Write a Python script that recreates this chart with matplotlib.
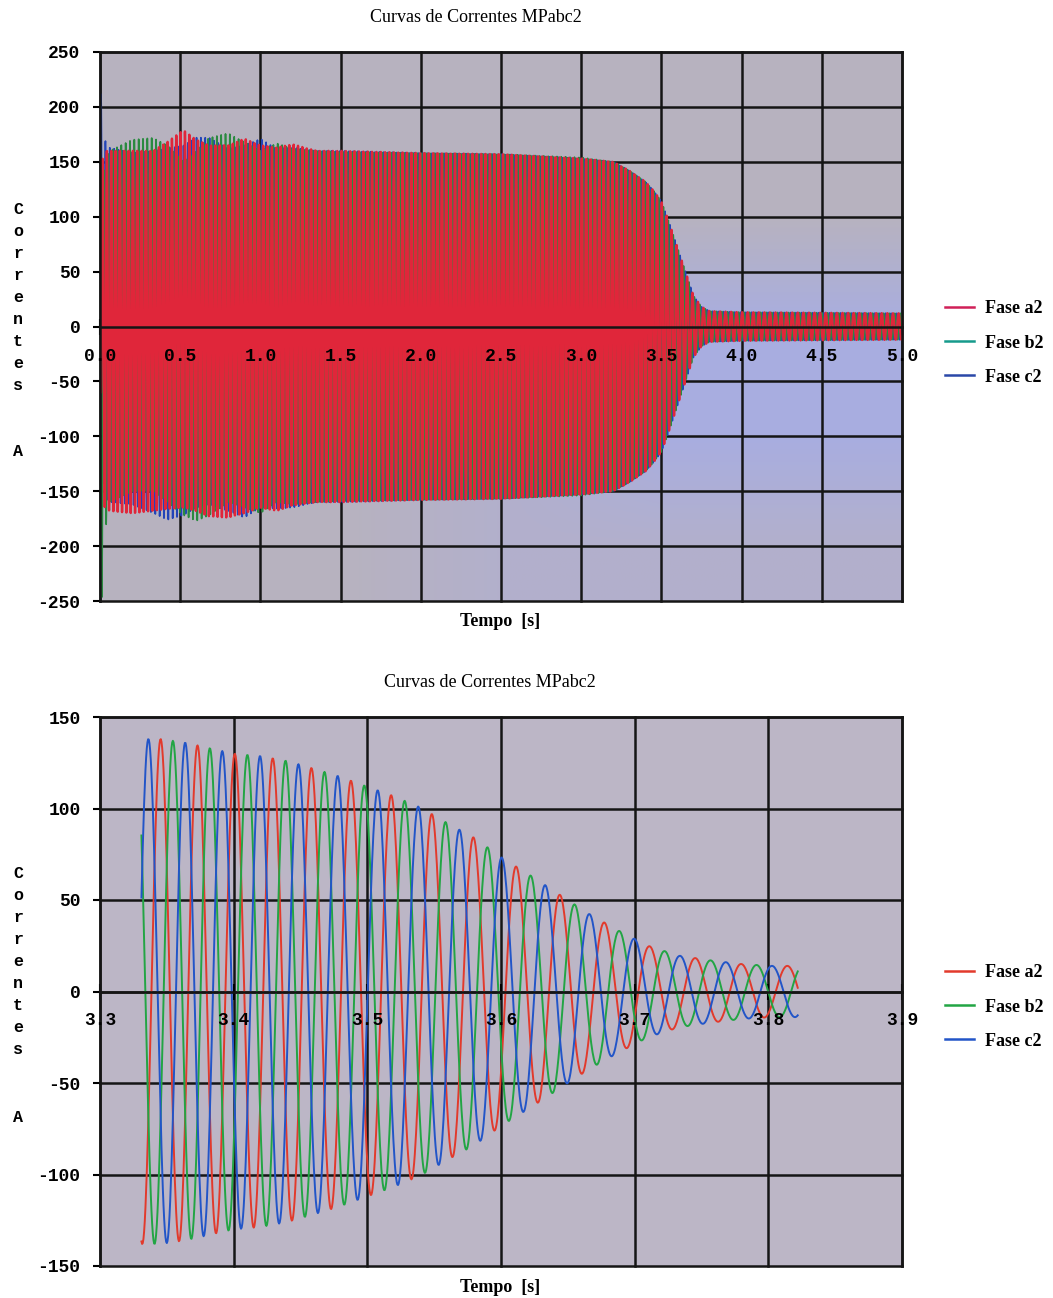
import numpy as np
import matplotlib.pyplot as plt
from matplotlib.lines import Line2D

# ---------------- top chart: envelope keypoints ----------------
t_env = [0.0, 0.01, 0.03, 0.06, 0.2, 0.33, 0.42, 0.52, 0.6, 0.68, 0.8, 0.9, 1.0, 1.1, 1.2,
         1.35, 1.5, 2.0, 2.5, 3.0, 3.2, 3.3, 3.4, 3.45, 3.5, 3.55, 3.6, 3.65, 3.7, 3.75,
         3.8, 4.0, 5.0]
a_up = [0, 150, 160, 160, 160, 160, 168, 179, 170, 165, 165, 171, 165, 163, 166,
        160, 160, 158, 157, 153, 150, 142, 132, 124, 114, 94, 72, 50, 28, 18, 14, 13, 12]
a_lo = [0, -150, -165, -168, -170, -168, -166, -165, -168, -173, -174, -170, -165, -168, -163,
        -160, -160, -158, -157, -153, -150, -142, -132, -124, -114, -94, -72, -50, -28, -18,
        -14, -13, -12]
b_up = [0, 120, 150, 160, 170, 172, 165, 150, 160, 172, 176, 168, 160, 167, 162,
        160, 159, 158, 157, 154, 150, 142, 132, 124, 114, 94, 72, 50, 28, 18, 14, 13, 12]
b_lo = [-250, -250, -188, -160, -150, -150, -160, -172, -177, -172, -160, -165, -170, -160, -162,
        -160, -159, -158, -157, -154, -150, -142, -132, -124, -114, -94, -72, -50, -28, -18,
        -14, -13, -12]
c_up = [250, 190, 170, 163, 158, 160, 162, 165, 172, 172, 162, 165, 171, 162, 163,
        160, 160, 158, 157, 153, 150, 142, 132, 124, 114, 94, 72, 50, 28, 18, 14, 13, 12]
c_lo = [0, -130, -155, -160, -162, -170, -176, -172, -165, -162, -168, -174, -165, -166, -165,
        -160, -160, -158, -157, -153, -150, -142, -132, -124, -114, -94, -72, -50, -28, -18,
        -14, -13, -12]

# supply frequency (Hz), read from the spacing of the peaks
t_freq = [0.0, 3.3, 3.37, 3.43, 3.49, 3.55, 3.61, 3.67, 3.73, 3.82, 5.0]
f_freq = [37.0, 36.6, 36.2, 34.9, 33.4, 32.6, 30.8, 29.9, 29.2, 29.0, 28.5]

# ---------------- bottom chart: zoom 3.33 s .. 3.82 s ----------------
t_zoom = [3.331, 3.345, 3.364, 3.382, 3.40, 3.42, 3.44, 3.459, 3.478, 3.4985, 3.519, 3.54,
          3.56, 3.58, 3.601, 3.623, 3.645, 3.666, 3.688, 3.71, 3.733, 3.757, 3.78, 3.802, 3.822]
amp_zoom = [138, 138, 136, 133, 130, 128.7, 126, 122, 117.8, 112.4, 107, 100.5,
            92, 84, 73, 63, 52.4, 42.4, 33.3, 25, 19.6, 17, 15, 14, 14]
t_peak_c2 = 3.3362   # first peak of phase c2 in the zoom

labels = ["Fase a2", "Fase b2", "Fase c2"]
shifts = [2 * np.pi / 3, 4 * np.pi / 3, 0.0]   # a2 lags c2, b2 lags a2
top_colors = ["#e0263a", "#2a8a40", "#2244b8"]
top_widths = [1.7, 1.2, 1.2]
top_leg_colors = ["#d02058", "#169a8c", "#2a48a8"]
bot_colors = ["#e23a2c", "#22a544", "#2255c8"]


def carrier(t):
    f = np.interp(t, t_freq, f_freq)
    dt = np.diff(t, prepend=t[0])
    return 2 * np.pi * np.cumsum(f * dt)


fig = plt.figure(figsize=(10.53, 12.98), dpi=100)
W, H = 1053, 1298
ax1 = fig.add_axes([100 / W, 1 - 601 / H, 802 / W, 549 / H])
ax2 = fig.add_axes([100 / W, 1 - 1266 / H, 802 / W, 549 / H])

# top chart signals (red drawn last, it covers most of the band)
t1 = np.arange(0.0, 5.0, 0.0005)
th1 = carrier(t1)
env = [(a_up, a_lo), (b_up, b_lo), (c_up, c_lo)]
for k in [2, 1, 0]:
    up = np.interp(t1, t_env, env[k][0])
    lo = np.interp(t1, t_env, env[k][1])
    y = (up + lo) / 2 + (up - lo) / 2 * np.sin(th1 - shifts[k])
    ax1.plot(t1, y, color=top_colors[k], lw=top_widths[k], zorder=2)

# scanned-paper background of the top chart
g = [0.72, 0.70, 0.75]
b = [0.66, 0.68, 0.88]
m = [0.70, 0.69, 0.80]
bg = np.array([[g, g, g, g, g],
               [g, g, g, g, g],
               [g, g, g, b, b],
               [g, g, m, b, b],
               [g, g, m, m, m]])
ax1.imshow(bg, extent=[0, 5, -250, 250], aspect="auto", interpolation="bilinear", zorder=0)

# bottom chart signals
t2 = np.arange(3.331, 3.8225, 0.0005)
th2 = carrier(t2)
th2 = th2 - np.interp(t_peak_c2, t2, th2) + np.pi / 2
amp2 = np.interp(t2, t_zoom, amp_zoom)
for k in [0, 1, 2]:
    ax2.plot(t2, amp2 * np.sin(th2 - shifts[k]), color=bot_colors[k], lw=1.4, zorder=2)
ax2.set_facecolor("#bcb6c6")


def style(ax, xt, yt, xfmt, lab_y):
    ax.set_xlim(xt[0], xt[-1])
    ax.set_ylim(yt[0], yt[-1])
    for x in xt:
        ax.axvline(x, color="#151515", lw=1.8, zorder=1, clip_on=False)
    for y in yt:
        ax.axhline(y, color="#151515", lw=1.8, zorder=1, clip_on=False)
    for s in ["top", "right", "left", "bottom"]:
        ax.spines[s].set_linewidth(1.8)
        ax.spines[s].set_color("#151515")
    ax.spines["bottom"].set_position(("data", 0))
    ax.set_xticks(xt)
    ax.set_xticklabels([])
    ax.tick_params(axis="x", direction="inout", length=12, width=1.5)
    ax.set_yticks(yt)
    ax.set_yticklabels([str(v) for v in yt], family="Liberation Mono",
                       weight="bold", size=13)
    ax.tick_params(axis="y", direction="out", length=5, width=1.5, pad=9)
    for x in xt:
        ax.text(x, lab_y, xfmt.format(x), ha="center", va="center",
                family="Liberation Mono", size=13, weight="bold", zorder=3)


style(ax1, [0.0, 0.5, 1.0, 1.5, 2.0, 2.5, 3.0, 3.5, 4.0, 4.5, 5.0],
      [-250, -200, -150, -100, -50, 0, 50, 100, 150, 200, 250], "{:.1f}", -27)
style(ax2, [3.3, 3.4, 3.5, 3.6, 3.7, 3.8, 3.9],
      [-150, -100, -50, 0, 50, 100, 150], "{:.1f}", -16)

# titles, axis labels
for ty, xy in [(18, 476), (683, 490)]:
    fig.text(xy / W, 1 - ty / H, "Curvas de Correntes MPabc2", ha="center", va="center",
             family="Liberation Serif", size=13)
for ty in [622, 1287]:
    fig.text(500 / W, 1 - ty / H, "Tempo  [s]", ha="center", va="center",
             family="Liberation Serif", weight="bold", size=13)
for y0, ya in [(210, 452), (873, 1117)]:
    for i, ch in enumerate("Correntes"):
        fig.text(18 / W, 1 - (y0 + i * 22) / H, ch, ha="center", va="center",
                 family="Liberation Mono", weight="bold", size=12)
    fig.text(18 / W, 1 - ya / H, "A", ha="center", va="center",
             family="Liberation Mono", weight="bold", size=12)

# legends
for ax, cols, yc in [(ax1, top_leg_colors, 343), (ax2, bot_colors, 1007)]:
    handles = [Line2D([], [], color=c, lw=1.8) for c in cols]
    ax.legend(handles, labels, loc="center left", bbox_to_anchor=(945 / W, 1 - yc / H),
              bbox_transform=fig.transFigure, frameon=False, borderpad=0, borderaxespad=0,
              handlelength=1.6, handletextpad=0.6, labelspacing=0.95,
              prop={"family": "Liberation Serif", "weight": "bold", "size": 13})

fig.savefig("out.png", dpi=100)
